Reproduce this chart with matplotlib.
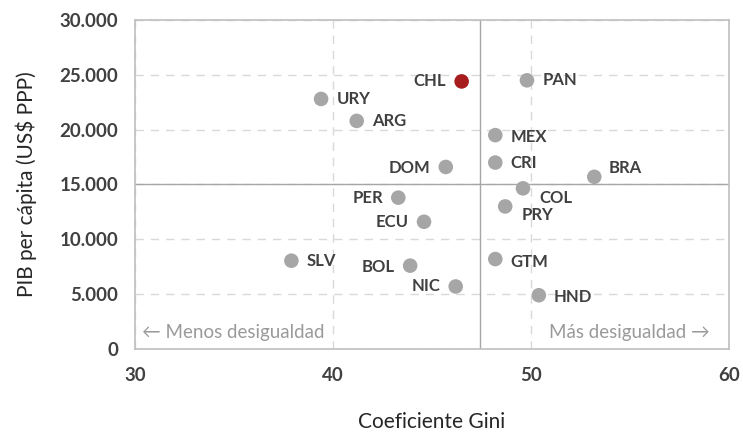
import matplotlib.pyplot as plt
from matplotlib.ticker import FuncFormatter

plt.rcParams['font.family'] = ['Lato', 'DejaVu Sans']

# data
countries = ['URY', 'ARG', 'CHL', 'PAN', 'MEX', 'CRI', 'DOM', 'BRA', 'COL',
             'PER', 'PRY', 'ECU', 'SLV', 'BOL', 'NIC', 'GTM', 'HND']
gini = [39.4, 41.2, 46.5, 49.8, 48.2, 48.2, 45.7, 53.2, 49.6,
        43.3, 48.7, 44.6, 37.9, 43.9, 46.2, 48.2, 50.4]
pib = [22800, 20800, 24400, 24500, 19500, 17000, 16600, 15700, 14650,
       13800, 13000, 11600, 8050, 7600, 5700, 8200, 4900]
highlight = 'CHL'
gini_ref = 47.45
pib_ref = 15000

# label offsets in points (dx, dy, ha)
offsets = {
    'URY': (11, 0, 'left'), 'ARG': (11, 0, 'left'), 'CHL': (-11, 0, 'right'),
    'PAN': (11, 0, 'left'), 'MEX': (11, -1.5, 'left'), 'CRI': (11, 0, 'left'),
    'DOM': (-11, -1, 'right'), 'BRA': (10, 6, 'left'), 'COL': (12, -7, 'left'),
    'PER': (-11, 0, 'right'), 'PRY': (12, -6, 'left'), 'ECU': (-11, 0, 'right'),
    'SLV': (11, 0, 'left'), 'BOL': (-11, -1, 'right'), 'NIC': (-11, 0, 'right'),
    'GTM': (11, -2, 'left'), 'HND': (11, -1.5, 'left'),
}

fig = plt.figure(figsize=(7.43, 4.34), dpi=100)
ax = fig.add_axes([0.1817, 0.1959, 0.7993, 0.7580])

colors = ['#a71d1d' if c == highlight else '#a6a6a6' for c in countries]
ax.scatter(gini, pib, s=110, c=colors, edgecolors='none', zorder=3)

for c, x, y in zip(countries, gini, pib):
    dx, dy, ha = offsets[c]
    ax.annotate(c, (x, y), xytext=(dx, dy), textcoords='offset points',
                ha=ha, va='center', fontsize=12, fontweight='bold',
                color='#404040', zorder=4)

ax.axvline(gini_ref, color='#a6a6a6', lw=1.0, zorder=2)
ax.axhline(pib_ref, color='#a6a6a6', lw=1.0, zorder=2)

ax.set_xlim(30, 60)
ax.set_ylim(0, 30000)
ax.set_xticks([30, 40, 50, 60])
ax.set_yticks(range(0, 30001, 5000))
ax.yaxis.set_major_formatter(FuncFormatter(lambda v, p: f'{int(v):,}'.replace(',', '.')))
ax.grid(True, ls=(0, (6, 5)), color='#d9d9d9', lw=1.0, zorder=1)
ax.tick_params(length=0, labelsize=13.5, labelcolor='#404040')
ax.tick_params(axis='x', pad=13)
ax.tick_params(axis='y', pad=12)
for t in ax.get_xticklabels() + ax.get_yticklabels():
    t.set_fontweight('bold')
for s in ax.spines.values():
    s.set_color('#bfbfbf')
    s.set_linewidth(1.2)

ax.text(0.012, 0.05, '← Menos desigualdad', transform=ax.transAxes,
        fontsize=13.5, color='#9a9a9a', ha='left', va='center')
ax.text(0.968, 0.05, 'Más desigualdad →', transform=ax.transAxes,
        fontsize=13.5, color='#9a9a9a', ha='right', va='center')

ax.set_xlabel('Coeficiente Gini', fontsize=15, color='#262626', labelpad=20)
ax.set_ylabel('PIB per cápita (US$ PPP)', fontsize=15, color='#262626', labelpad=16)

fig.savefig('out.png', dpi=100)
